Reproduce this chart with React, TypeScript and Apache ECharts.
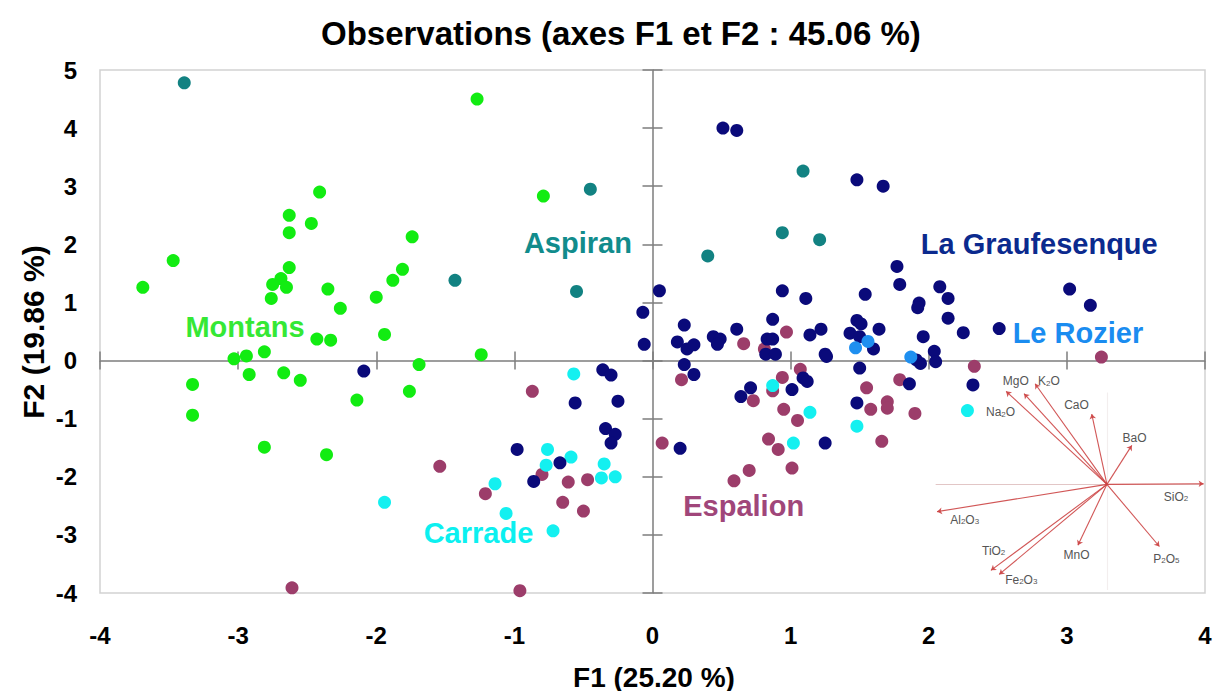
import React, { useEffect, useRef } from "react";
import * as echarts from "echarts";

// ---- Axis ranges / ticks ----
const X_MIN = -4;
const X_MAX = 4;
const Y_MIN = -4;
const Y_MAX = 5;
const TICK_STEP = 1;

const TITLE = "Observations (axes F1 et F2 : 45.06 %)";
const X_NAME = "F1 (25.20 %)";
const Y_NAME = "F2 (19.86 %)";

// ---- Observations (F1, F2) per site ----
const montans: number[][] = [
  [-3.69, 1.26], [-3.47, 1.72], [-2.41, 2.9], [-2.63, 2.5], [-2.47, 2.36], [-2.63, 2.2],
  [-2.63, 1.6], [-2.69, 1.41], [-2.75, 1.31], [-2.65, 1.26], [-2.76, 1.07], [-2.35, 1.23],
  [-2.26, 0.9], [-2.0, 1.09], [-2.43, 0.37], [-2.33, 0.35], [-3.03, 0.03], [-2.94, 0.08],
  [-2.81, 0.15], [-3.33, -0.41], [-2.92, -0.24], [-2.67, -0.21], [-2.55, -0.34], [-3.33, -0.94],
  [-2.14, -0.68], [-2.81, -1.49], [-2.36, -1.62], [-1.27, 4.5], [-0.79, 2.83], [-1.74, 2.13],
  [-1.81, 1.57], [-1.88, 1.38], [-1.94, 0.45], [-1.24, 0.1], [-1.69, -0.07], [-1.76, -0.53],
];

const aspiran: number[][] = [
  [-3.39, 4.78], [-0.45, 2.95], [-1.43, 1.38], [-0.55, 1.19], [1.09, 3.26], [0.94, 2.2],
  [1.21, 2.08], [0.4, 1.8],
];

const espalion: number[][] = [
  [-2.61, -3.91], [-0.87, -0.53], [0.07, -1.42], [-0.8, -1.96], [-0.61, -2.09], [-0.47, -2.05],
  [-1.54, -1.82], [-1.21, -2.29], [-0.65, -2.44], [-0.5, -2.59], [-0.96, -3.96], [0.66, 0.29],
  [0.81, 0.2], [0.97, 0.49], [1.07, -0.15], [0.21, -0.33], [0.94, -0.29], [0.87, -0.52],
  [0.73, -0.69], [0.95, -0.84], [1.05, -1.03], [0.84, -1.35], [0.91, -1.53], [1.01, -1.85],
  [0.7, -1.89], [0.59, -2.07], [1.55, -0.47], [1.58, -0.84], [1.7, -0.71], [1.7, -0.82],
  [1.66, -1.39], [1.79, -0.33], [1.9, -0.91], [2.33, -0.1], [3.25, 0.06],
];

const carrade: number[][] = [
  [-1.94, -2.44], [-0.57, -0.23], [-0.76, -1.53], [-0.59, -1.66], [-0.77, -1.8], [-0.35, -1.78],
  [-0.37, -2.02], [-0.27, -2.0], [-1.14, -2.12], [-1.06, -2.63], [-0.72, -2.93], [0.87, -0.43],
  [1.14, -0.89], [1.02, -1.42], [1.48, -1.13], [2.28, -0.86],
];

const graufesenque: number[][] = [
  [-2.09, -0.18], [-0.07, 0.83], [0.05, 1.2], [-0.06, 0.28], [-0.36, -0.16], [-0.3, -0.25],
  [-0.56, -0.73], [-0.25, -0.7], [-0.34, -1.17], [-0.27, -1.27], [-0.3, -1.42], [-0.98, -1.53],
  [-0.67, -1.76], [-0.86, -2.08], [0.51, 4.0], [0.61, 3.96], [1.48, 3.11], [1.67, 3.0],
  [1.77, 1.62], [1.79, 1.31], [0.94, 1.2], [1.11, 1.07], [1.54, 1.14], [1.93, 0.99],
  [1.92, 0.91], [0.23, 0.61], [0.61, 0.54], [0.87, 0.71], [1.22, 0.54], [1.48, 0.69],
  [1.51, 0.63], [1.64, 0.54], [1.43, 0.47], [1.5, 0.41], [1.14, 0.44], [0.18, 0.32],
  [0.25, 0.2], [0.3, 0.27], [0.44, 0.41], [0.49, 0.37], [0.47, 0.28], [0.83, 0.37],
  [0.87, 0.37], [0.82, 0.11], [0.89, 0.11], [1.25, 0.11], [1.26, 0.07], [1.5, -0.13],
  [0.23, -0.07], [0.3, -0.24], [1.6, 0.2], [1.91, 0.01], [1.09, -0.3], [1.12, -0.36],
  [1.01, -0.5], [0.71, -0.47], [0.64, -0.62], [1.25, -1.42], [0.2, -1.51], [1.48, -0.73],
  [1.86, -0.4], [2.08, 1.27], [2.14, 1.07], [2.14, 0.73], [1.96, 0.41], [2.25, 0.48],
  [2.51, 0.55], [3.02, 1.23], [3.17, 0.95], [1.94, -0.05], [2.04, 0.16], [2.05, -0.02],
  [2.32, -0.42],
];

const rozier: number[][] = [
  [1.47, 0.22], [1.56, 0.33], [1.87, 0.06],
];

// ---- Site names, colours, label anchors ----
const siteNames = ["Montans", "Aspiran", "Espalion", "Carrade", "La Graufesenque", "Le Rozier"];
const siteData = [montans, aspiran, espalion, carrade, graufesenque, rozier];
const pointColors = ["#12ec12", "#128282", "#9c3d6a", "#14f0f0", "#0a0a7a", "#1e8ff0"];
const labelColors = ["#35e835", "#118c8c", "#a0467a", "#0cf0f0", "#0b2a8e", "#1a8cf0"];
const labelAnchors: number[][] = [
  [-2.95, 0.58], [-0.54, 2.03], [0.66, -2.5], [-1.26, -2.96], [2.8, 2.01], [3.08, 0.48],
];

// ---- Inset: variable loadings (correlation circle pasted in lower right) ----
const insetCenter = [3.29, -2.13];
const variableNames = ["MgO", "Na{s|2}O", "K{s|2}O", "CaO", "BaO", "SiO{s|2}", "P{s|2}O{s|5}", "MnO", "Fe{s|2}O{s|3}", "TiO{s|2}", "Al{s|2}O{s|3}"];
const variableEnds: number[][] = [
  [2.56, -0.53], [2.69, -0.57], [2.77, -0.4], [3.18, -0.92], [3.47, -1.46], [3.99, -2.12],
  [3.67, -3.2], [3.08, -3.18], [2.51, -3.68], [2.45, -3.61], [2.06, -2.6],
];
const variableLabelPos: number[][] = [
  [2.63, -0.36], [2.52, -0.89], [2.87, -0.36], [3.07, -0.76], [3.49, -1.33], [3.79, -2.34],
  [3.72, -3.41], [3.07, -3.34], [2.67, -3.77], [2.47, -3.27], [2.26, -2.74],
];
const insetHAxis: number[][] = [[2.05, -2.12], [3.99, -2.12]];
const insetVAxis: number[][] = [[3.29, -0.55], [3.29, -3.95]];

const FONT = "'Liberation Sans', Arial, Helvetica, sans-serif";
const AXIS_GRAY = "#7d7d7d";

export default function App() {
  const ref = useRef<HTMLDivElement>(null);

  useEffect(() => {
    document.body.style.margin = "0";
    const chart = echarts.init(ref.current as HTMLDivElement, null, { renderer: "svg" });

    const baseAxis = { type: "value", min: 0, max: 0, interval: TICK_STEP, splitLine: { show: false } };
    const xBase = { ...baseAxis, min: X_MIN, max: X_MAX };
    const yBase = { ...baseAxis, min: Y_MIN, max: Y_MAX };
    const hidden = { show: false };

    const pointSeries = siteNames.map((name, i) => ({
      type: "scatter",
      name,
      data: siteData[i],
      symbol: "circle",
      symbolSize: 13,
      itemStyle: { color: pointColors[i], opacity: 1 },
      z: 3,
    }));

    const labelSeries = {
      type: "scatter",
      name: "labels",
      symbolSize: 0,
      silent: true,
      z: 5,
      itemStyle: { opacity: 1 },
      data: siteNames.map((n, i) => ({
        name: n,
        value: labelAnchors[i],
        label: { color: labelColors[i] },
      })),
      label: {
        show: true,
        position: "inside",
        formatter: (p: any) => p.name,
        fontSize: 29,
        fontWeight: "bold",
        fontFamily: FONT,
        opacity: 1,
      },
    };

    const insetLines = {
      type: "lines",
      coordinateSystem: "cartesian2d",
      silent: true,
      z: 2,
      symbol: ["none", "arrow"],
      symbolSize: 5,
      lineStyle: { color: "#cc4444", width: 1.1, opacity: 0.9 },
      data: variableEnds.map((e) => ({ coords: [insetCenter, e] })),
    };

    const insetAxes = {
      type: "lines",
      coordinateSystem: "cartesian2d",
      silent: true,
      z: 1,
      symbol: ["none", "none"],
      lineStyle: { color: "#e2c6c6", width: 1.2, opacity: 1 },
      data: [{ coords: insetHAxis }, { coords: insetVAxis, lineStyle: { color: "#f3eeee" } }],
    };

    const insetLabels = {
      type: "scatter",
      symbolSize: 0,
      silent: true,
      z: 4,
      itemStyle: { opacity: 1 },
      data: variableNames.map((n, i) => ({ name: n, value: variableLabelPos[i] })),
      label: {
        show: true,
        position: "inside",
        formatter: (p: any) => p.name,
        fontSize: 12,
        color: "#555",
        fontFamily: FONT,
        rich: { s: { fontSize: 8, color: "#555", verticalAlign: "bottom", fontFamily: FONT } },
      },
    };

    chart.setOption({
      animation: false,
      backgroundColor: "#fff",
      title: {
        text: TITLE,
        left: 316,
        top: 12,
        textStyle: { fontSize: 33, fontWeight: "bold", color: "#000", fontFamily: FONT },
      },
      grid: {
        left: 100,
        right: 12,
        top: 70,
        bottom: 98,
        show: true,
        borderColor: "#d2d2d2",
        borderWidth: 1.5,
        containLabel: false,
      },
      xAxis: [
        {
          ...xBase,
          position: "bottom",
          axisLine: { show: false, onZero: false },
          axisTick: hidden,
          axisLabel: { fontSize: 24, fontWeight: "bold", color: "#000", margin: 30, fontFamily: FONT },
        },
        {
          ...xBase,
          position: "top",
          axisLine: { show: true, onZero: true, onZeroAxisIndex: 0, lineStyle: { color: AXIS_GRAY, width: 1.5 } },
          axisTick: { show: true, length: 9, lineStyle: { color: AXIS_GRAY, width: 1.5 } },
          axisLabel: hidden,
        },
        {
          ...xBase,
          position: "bottom",
          axisLine: { show: false, onZero: true, onZeroAxisIndex: 0 },
          axisTick: { show: true, length: 9, lineStyle: { color: AXIS_GRAY, width: 1.5 } },
          axisLabel: hidden,
        },
      ],
      yAxis: [
        {
          ...yBase,
          position: "left",
          axisLine: { show: false, onZero: false },
          axisTick: hidden,
          axisLabel: { fontSize: 24, fontWeight: "bold", color: "#000", margin: 23, fontFamily: FONT },
        },
        {
          ...yBase,
          position: "left",
          axisLine: { show: true, onZero: true, onZeroAxisIndex: 0, lineStyle: { color: AXIS_GRAY, width: 1.5 } },
          axisTick: { show: true, length: 10, lineStyle: { color: AXIS_GRAY, width: 1.5 } },
          axisLabel: hidden,
        },
        {
          ...yBase,
          position: "right",
          axisLine: { show: false, onZero: true, onZeroAxisIndex: 0 },
          axisTick: { show: true, length: 10, lineStyle: { color: AXIS_GRAY, width: 1.5 } },
          axisLabel: hidden,
        },
      ],
      graphic: [
        {
          type: "text",
          x: 654,
          y: 677,
          style: { text: X_NAME, font: `bold 28px ${FONT}`, fill: "#000", align: "center", verticalAlign: "middle" },
        },
        {
          type: "text",
          x: 33,
          y: 332,
          rotation: Math.PI / 2,
          style: { text: Y_NAME, font: `bold 30px ${FONT}`, fill: "#000", align: "center", verticalAlign: "middle" },
        },
      ],
      series: [insetAxes, insetLines, insetLabels, ...pointSeries, labelSeries],
    });

    return () => chart.dispose();
  }, []);

  return <div ref={ref} style={{ width: 1217, height: 691 }} />;
}
